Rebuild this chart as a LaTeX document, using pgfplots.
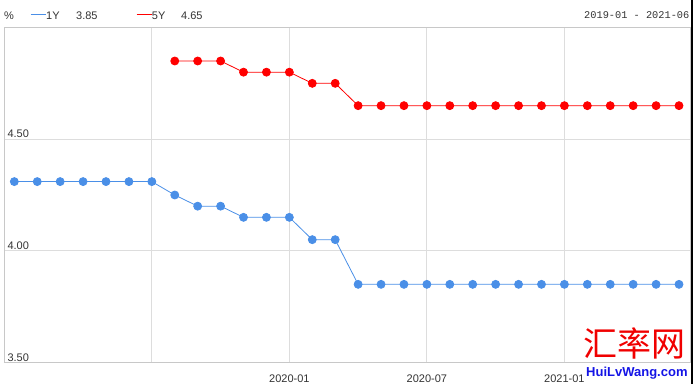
\documentclass[border=0pt]{standalone}
\usepackage{pgfplots}
\pgfplotsset{compat=1.18}
\usepackage{pgfplotstable}
\usepackage{fontspec}
\setmainfont{Liberation Sans}
\newfontfamily\monofont{Liberation Mono}
\newfontfamily\cjk{Noto Sans CJK SC}
\definecolor{lblue}{HTML}{4A8FE7}
\definecolor{lred}{HTML}{FF0000}
\definecolor{txt}{HTML}{333333}
\definecolor{gridc}{HTML}{DDDDDD}
\definecolor{borderc}{HTML}{C8C8C8}
\definecolor{wmblue}{HTML}{1414E6}
\definecolor{wmred}{HTML}{F00000}

\pgfplotstableread{
x y
0 4.31
1 4.31
2 4.31
3 4.31
4 4.31
5 4.31
6 4.31
7 4.25
8 4.20
9 4.20
10 4.15
11 4.15
12 4.15
13 4.05
14 4.05
15 3.85
16 3.85
17 3.85
18 3.85
19 3.85
20 3.85
21 3.85
22 3.85
23 3.85
24 3.85
25 3.85
26 3.85
27 3.85
28 3.85
29 3.85
}\oneY

\pgfplotstableread{
x y
7 4.85
8 4.85
9 4.85
10 4.80
11 4.80
12 4.80
13 4.75
14 4.75
15 4.65
16 4.65
17 4.65
18 4.65
19 4.65
20 4.65
21 4.65
22 4.65
23 4.65
24 4.65
25 4.65
26 4.65
27 4.65
28 4.65
29 4.65
}\fiveY

\begin{document}
\begin{tikzpicture}
\useasboundingbox (0pt,0pt) rectangle (693pt,388pt);
\begin{axis}[
  at={(4pt,25.5pt)}, anchor=south west,
  scale only axis, width=686pt, height=335pt,
  xmin=-0.45, xmax=29.48, ymin=3.5, ymax=5.0,
  xtick={6,12,18,24}, xticklabels={,2020-01,2020-07,2021-01},
  ytick={3.5,4,4.5}, yticklabels={3.50,4.00,4.50},
  grid=major, major grid style={gridc, line width=0.9pt},
  axis line style={borderc, line width=0.9pt},
  major tick length=0pt,
  tick label style={font=\fontsize{11}{13}\selectfont, text=txt},
  yticklabel style={anchor=base west, inner sep=0pt, xshift=3.3pt, yshift=1.5pt},
  xticklabel style={anchor=base, inner sep=0pt, yshift=-20pt},
  clip=false,
]
\addplot[lblue, line width=0.8pt, mark=*, mark size=4pt, mark options={fill=lblue, draw=none}] table[x=x,y=y] {\oneY};
\addplot[lred, line width=0.8pt, mark=*, mark size=4pt, mark options={fill=lred, draw=none}] table[x=x,y=y] {\fiveY};
\end{axis}
% legend / header
\begin{scope}[every node/.style={anchor=base west, inner sep=0pt, text=txt, font=\fontsize{11}{13}\selectfont}]
\node at (4pt,368.5pt) {\%};
\draw[lblue, line width=1pt] (30.7pt,373pt) -- (45.7pt,373pt);
\node at (46pt,368.5pt) {1Y};
\node at (76pt,368.5pt) {3.85};
\draw[lred, line width=1pt] (136.7pt,373pt) -- (151.7pt,373pt);
\node at (151.7pt,368.5pt) {5Y};
\node at (181pt,368.5pt) {4.65};
\end{scope}
\node[anchor=base east, inner sep=0pt, text=txt, font=\monofont\fontsize{10.3}{12}\selectfont] at (689.5pt,369.7pt) {2019-01 - 2021-06};
% watermark
\node[anchor=center, inner sep=0pt, text=wmred, font=\cjk\fontsize{34}{36}\selectfont] at (634pt,45pt) {汇率网};
\node[anchor=base west, inner sep=0pt, text=wmblue, font=\bfseries\fontsize{13}{15}\selectfont] at (586pt,11.7pt) {HuiLvWang.com};
\fill[black] (691pt,4pt) rectangle (693pt,388pt);
\end{tikzpicture}
\end{document}
